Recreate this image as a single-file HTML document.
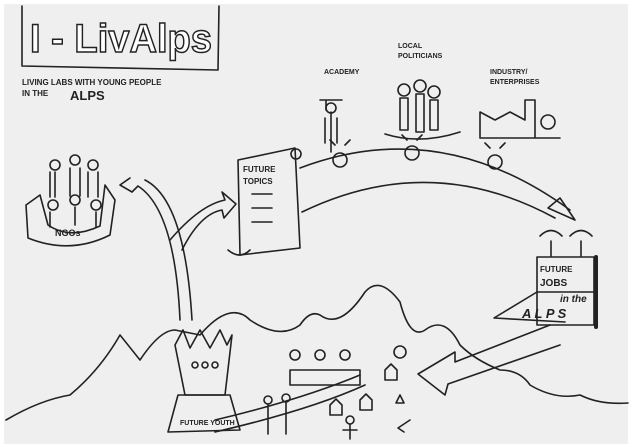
<!DOCTYPE html>
<html><head><style>
body{margin:0;background:#fff;}
svg{display:block;font-family:"Liberation Sans",sans-serif;}
</style></head><body>
<svg width="630" height="445" viewBox="0 0 630 445" xmlns="http://www.w3.org/2000/svg">
<rect x="4" y="4" width="624" height="440" fill="#efefef"/>
<g fill="none" stroke="#222" stroke-width="1.6" stroke-linecap="round" stroke-linejoin="round">
<path d="M22 6 L22 66 L218 70 L219 6"/>
<path d="M26 205 L40 195 L48 225 Q70 240 100 226 L105 185 L115 200 L110 235 Q70 255 28 238 Z"/>
<circle cx="55" cy="165" r="5"/><circle cx="75" cy="160" r="5"/><circle cx="93" cy="165" r="5"/>
<path d="M50 172 v25 M55 172 v25 M70 168 v28 M80 168 v28 M88 172 v25 M98 172 v25"/>
<circle cx="53" cy="205" r="5"/><circle cx="75" cy="200" r="5"/><circle cx="96" cy="205" r="5"/>
<path d="M50 212 v15 M75 207 v18 M96 212 v15"/>
<path d="M130 178 L120 185 L132 192 L138 186 Q175 210 180 320"/>
<path d="M145 180 Q185 200 192 320"/>
<path d="M170 240 Q200 205 225 200 L222 192 L236 204 L224 218 L222 210 Q200 214 182 250"/>
<path d="M238 160 L295 148 L300 248 L240 255 Z"/>
<circle cx="296" cy="154" r="5"/>
<path d="M252 194 h20 M252 208 h20 M252 222 h20 M228 250 Q240 260 250 250"/>
<path d="M300 168 Q440 115 570 210"/>
<path d="M302 212 Q430 150 555 218"/>
<path d="M548 208 L575 220 L560 198 Z"/>
<path d="M320 100 h22 M326 100 v10 M331 112 l0 40 M325 118 v25 M337 118 v25"/>
<circle cx="331" cy="108" r="5"/>
<circle cx="404" cy="90" r="6"/><circle cx="420" cy="86" r="6"/><circle cx="434" cy="92" r="6"/>
<rect x="400" y="98" width="8" height="32"/><rect x="416" y="94" width="8" height="38"/><rect x="430" y="100" width="8" height="30"/>
<path d="M385 134 Q420 145 460 132"/>
<path d="M480 138 L480 112 L495 120 L510 112 L525 120 L525 100 L535 100 L535 138 Z M480 138 h80"/>
<circle cx="548" cy="122" r="7"/>
<circle cx="340" cy="160" r="7"/><circle cx="412" cy="153" r="7"/><circle cx="495" cy="162" r="7"/>
<path d="M335 145 l-5 -5 M345 145 l5 -5 M407 140 l-5-5 M417 140 l5-5 M490 148 l-5-5 M500 148 l5-5"/>
<rect x="537" y="257" width="57" height="68"/>
<path d="M596 257 v70" stroke-width="4"/>
<path d="M537 292 h57 M537 292 L494 318 L565 322"/>
<path d="M551 256 v-15 M581 256 v-15"/>
<path d="M540 236 Q551 225 562 236 M570 236 Q581 225 592 236"/>
<path d="M6 420 Q40 400 70 395 Q100 370 120 335 L140 360 Q160 330 175 330 L200 335 Q230 300 250 320 Q280 340 300 325 Q310 310 320 315 Q340 330 365 292 Q380 275 400 302 Q410 340 425 330 Q445 315 460 345 Q475 360 500 370 Q520 370 530 385 Q555 400 580 395 Q600 405 628 403"/>
<path d="M215 420 Q300 400 360 375 M215 432 Q310 410 365 385"/>
<path d="M550 325 L455 362 L455 352 L418 374 L445 395 L448 384 L560 345"/>
<path d="M175 345 L183 330 L190 348 L200 330 L210 348 L220 330 L227 345 L232 335 L225 395 L185 395 Z"/>
<path d="M178 395 L230 395 L240 430 L168 432 Z"/>
<circle cx="195" cy="365" r="3"/><circle cx="205" cy="365" r="3"/><circle cx="215" cy="365" r="3"/>
<circle cx="295" cy="355" r="5"/><circle cx="320" cy="355" r="5"/><circle cx="345" cy="355" r="5"/>
<path d="M290 370 h70 v15 h-70 z"/>
<circle cx="400" cy="352" r="6"/><path d="M385 370 l6-6 l6 6 v10 h-12z M330 405 l6-6 l6 6 v10 h-12z M360 400 l6-6 l6 6 v10 h-12z"/>
<path d="M400 395 l4 8 h-8z"/>
<circle cx="350" cy="420" r="4"/><path d="M350 424 v15 M343 430 h14"/>
<circle cx="268" cy="400" r="4"/><circle cx="286" cy="398" r="4"/><path d="M268 404 v30 M286 402 v32"/>
<path d="M410 420 l-12 8 l6 4"/>
</g>
<g font-weight="bold" fill="#222">
<text x="30" y="52" font-size="40" textLength="182" lengthAdjust="spacingAndGlyphs" fill="#fff" stroke="#222" stroke-width="1.5">I - LivAlps</text>
<text x="22" y="85" font-size="8">LIVING LABS WITH YOUNG PEOPLE</text>
<text x="22" y="96" font-size="8">IN THE</text><text x="70" y="100" font-size="13">ALPS</text>
<text x="55" y="236" font-size="9">NGOs</text>
<text x="243" y="172" font-size="8">FUTURE</text>
<text x="243" y="184" font-size="8">TOPICS</text>
<text x="324" y="74" font-size="7">ACADEMY</text>
<text x="398" y="48" font-size="7">LOCAL</text>
<text x="398" y="58" font-size="7">POLITICIANS</text>
<text x="490" y="74" font-size="7">INDUSTRY/</text>
<text x="490" y="84" font-size="7">ENTERPRISES</text>
<text x="540" y="272" font-size="8">FUTURE</text>
<text x="540" y="286" font-size="10">JOBS</text>
<text x="560" y="302" font-size="10" font-style="italic">in the</text>
<text x="522" y="318" font-size="13" font-style="italic">A L P S</text>
<text x="180" y="425" font-size="7">FUTURE YOUTH</text>
</g>
</svg>
</body></html>
